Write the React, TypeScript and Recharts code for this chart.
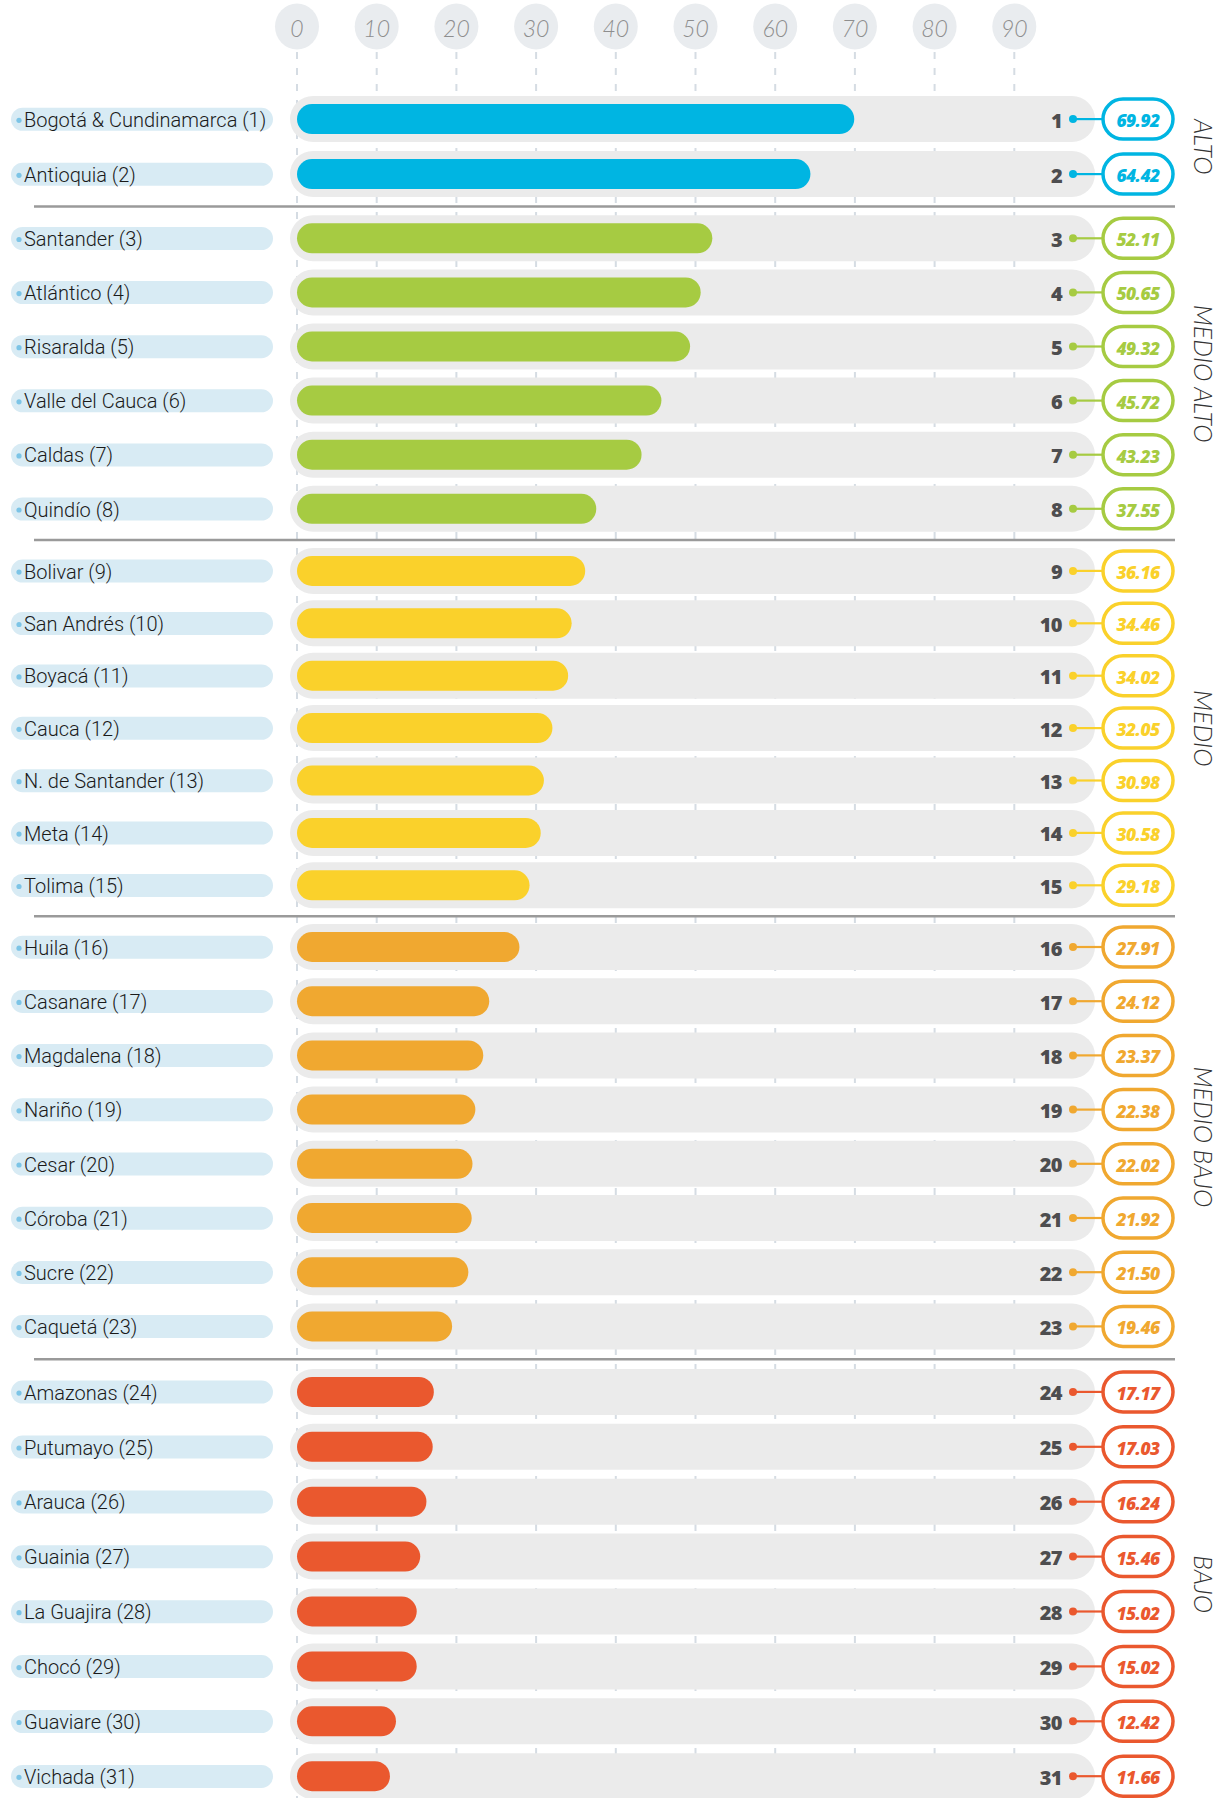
import React from 'react';
import { BarChart, Bar, XAxis, YAxis, CartesianGrid, ReferenceLine, ReferenceDot } from 'recharts';

const departments = [
  'Bogotá & Cundinamarca', 'Antioquia', 'Santander', 'Atlántico', 'Risaralda', 'Valle del Cauca', 'Caldas', 'Quindío',
  'Bolivar', 'San Andrés', 'Boyacá', 'Cauca', 'N. de Santander', 'Meta', 'Tolima',
  'Huila', 'Casanare', 'Magdalena', 'Nariño', 'Cesar', 'Córoba', 'Sucre', 'Caquetá',
  'Amazonas', 'Putumayo', 'Arauca', 'Guainia', 'La Guajira', 'Chocó', 'Guaviare', 'Vichada',
];
const scores = [
  69.92, 64.42, 52.11, 50.65, 49.32, 45.72, 43.23, 37.55,
  36.16, 34.46, 34.02, 32.05, 30.98, 30.58, 29.18,
  27.91, 24.12, 23.37, 22.38, 22.02, 21.92, 21.5, 19.46,
  17.17, 17.03, 16.24, 15.46, 15.02, 15.02, 12.42, 11.66,
];
const groupOf = [
  0, 0, 1, 1, 1, 1, 1, 1,
  2, 2, 2, 2, 2, 2, 2,
  3, 3, 3, 3, 3, 3, 3, 3,
  4, 4, 4, 4, 4, 4, 4, 4,
];
const groupNames = ['ALTO', 'MEDIO ALTO', 'MEDIO', 'MEDIO BAJO', 'BAJO'];
const groupColors = ['#00b5e2', '#a6cb42', '#fad12b', '#f0a830', '#ea582e'];
const xTicks = [0, 10, 20, 30, 40, 50, 60, 70, 80, 90];

// layout constants (pixels)
const CHART_W = 1227;
const CHART_H = 1798;
const AXIS_H = 52;
const LEFT = 297;
const RIGHT = 133;
const PX_PER_UNIT = 54;
const FIRST_ROW_Y = 119.3;
const GROUP_ROW_STEP = [55, 54.1, 52.4, 54.2, 54.9];
const GROUP_TRANSITION = [64.2, 62.1, 61.7, 65.5];

// vertical position of each row in axis units
const positions: number[] = [];
{
  let acc = 0;
  for (let i = 0; i < departments.length; i++) {
    if (i > 0) {
      const g = groupOf[i];
      acc += g !== groupOf[i - 1] ? GROUP_TRANSITION[groupOf[i - 1]] : GROUP_ROW_STEP[g];
    }
    positions.push(acc / PX_PER_UNIT);
  }
}

const data = departments.map((name, i) => ({
  name,
  rank: i + 1,
  value: scores[i],
  group: groupOf[i],
  pos: positions[i],
}));

const yLo = -(FIRST_ROW_Y - AXIS_H) / PX_PER_UNIT;
const yHi = yLo + (CHART_H - AXIS_H) / PX_PER_UNIT;

const separators: number[] = [];
for (let i = 1; i < data.length; i++) {
  if (data[i].group !== data[i - 1].group) separators.push((data[i].pos + data[i - 1].pos) / 2);
}
const groupCenters = groupNames.map((g, gi) => {
  const rows = data.filter((d) => d.group === gi);
  return { name: g, pos: (rows[0].pos + rows[rows.length - 1].pos) / 2 };
});

const FONT_LABEL = 'Roboto, "Noto Sans", sans-serif';
const FONT_NUM = 'Lato, "Open Sans", sans-serif';
const FONT_BADGE = '"Open Sans", Lato, sans-serif';

const XTick = (props: any) => {
  const { x, y, payload } = props;
  const cy = y - 25.5;
  return (
    <g>
      <ellipse cx={x} cy={cy} rx={22} ry={23} fill="#e9ecef" />
      <text x={x} y={cy + 1} textAnchor="middle" dominantBaseline="central" fontFamily={FONT_NUM}
        fontStyle="italic" fontWeight={300} fontSize={23} fill="#8e8e8e">{payload.value}</text>
    </g>
  );
};

const YTick = (props: any) => {
  const { y, payload } = props;
  const d = data.find((r) => Math.abs(r.pos - payload.value) < 1e-6);
  if (!d) return null;
  return (
    <g>
      <rect x={11} y={y - 11.5} width={262} height={23} rx={11.5} fill="#d8ebf4" />
      <circle cx={19} cy={y + 1} r={2.6} fill="#7cc4e6" />
      <text x={24} y={y + 0.5} dominantBaseline="central" fontFamily={FONT_LABEL} fontWeight={300}
        fontSize={20} fill="#1a1a1a">
        {`${d.name} (${d.rank})`}
      </text>
    </g>
  );
};

const Track = (props: any) => {
  const { x, y, width, height } = props;
  const cy = y + height / 2;
  return <rect x={x - 7} y={cy - 23} width={width + 8} height={46} rx={23} fill="#ebebeb" />;
};

const RowShape = (props: any) => {
  const { x, y, width, height, payload } = props;
  const cy = y + height / 2;
  const c = groupColors[payload.group];
  return (
    <g>
      <rect x={x} y={y} width={Math.max(width, 0)} height={height} rx={height / 2} fill={c} />
      <text x={1062} y={cy + 1} textAnchor="end" dominantBaseline="central" fontFamily={FONT_BADGE}
        fontWeight={800} fontSize={20} letterSpacing={-0.6} fill="#4d4d4f">{payload.rank}</text>
      <line x1={1073} x2={1102} y1={cy} y2={cy} stroke={c} strokeWidth={2.2} />
      <circle cx={1073} cy={cy} r={4} fill={c} />
      <rect x={1103} y={cy - 20} width={70} height={40} rx={20} fill="#fff" stroke={c} strokeWidth={3.5} />
      <text x={1138} y={cy + 1} textAnchor="middle" dominantBaseline="central" fontFamily={FONT_BADGE}
        fontStyle="italic" fontWeight={800} fontSize={17.5} letterSpacing={-0.6} fill={c}>
        {payload.value.toFixed(2)}
      </text>
    </g>
  );
};

const GroupLabel = (name: string) => (props: any) => {
  const { cx, cy } = props;
  return (
    <text x={cx} y={cy} transform={`rotate(90 ${cx} ${cy})`} textAnchor="middle" dominantBaseline="central"
      fontFamily={FONT_NUM} fontStyle="italic" fontWeight={300} fontSize={25} fill="#333">{name}</text>
  );
};

const xAt = (px: number) => ((px - LEFT) / (CHART_W - LEFT - RIGHT)) * 100;

export default function App() {
  return (
    <div style={{ position: 'absolute', left: 0, top: 0, width: CHART_W, height: CHART_H, background: '#fff' }}>
      <BarChart
        width={CHART_W}
        height={CHART_H}
        data={data}
        layout="vertical"
        margin={{ top: 0, right: RIGHT, bottom: 0, left: 0 }}
      >
        <CartesianGrid horizontal={false} vertical syncWithTicks stroke="#d5dce3" strokeWidth={2} strokeDasharray="7 9" />
        <XAxis
          type="number"
          orientation="top"
          domain={[0, 100]}
          ticks={xTicks}
          interval={0}
          height={AXIS_H}
          axisLine={false}
          tickLine={false}
          tickSize={0}
          tickMargin={0}
          tick={<XTick />}
        />
        <YAxis
          type="number"
          dataKey="pos"
          domain={[yLo, yHi]}
          ticks={data.map((d) => d.pos)}
          interval={0}
          width={LEFT}
          axisLine={false}
          tickLine={false}
          tick={<YTick />}
        />
        <Bar dataKey="value" barSize={30} isAnimationActive={false} background={Track} shape={RowShape} />
        {separators.map((s, i) => (
          <ReferenceLine
            key={`sep${i}`}
            segment={[{ x: xAt(34), y: s }, { x: xAt(1175), y: s }]}
            stroke="#9a9a9a"
            strokeWidth={2.5}
            ifOverflow="visible"
          />
        ))}
        {groupCenters.map((g, i) => (
          <ReferenceDot
            key={`g${i}`}
            x={xAt(1204)}
            y={g.pos}
            r={0}
            ifOverflow="visible"
            shape={GroupLabel(g.name)}
          />
        ))}
      </BarChart>
    </div>
  );
}
